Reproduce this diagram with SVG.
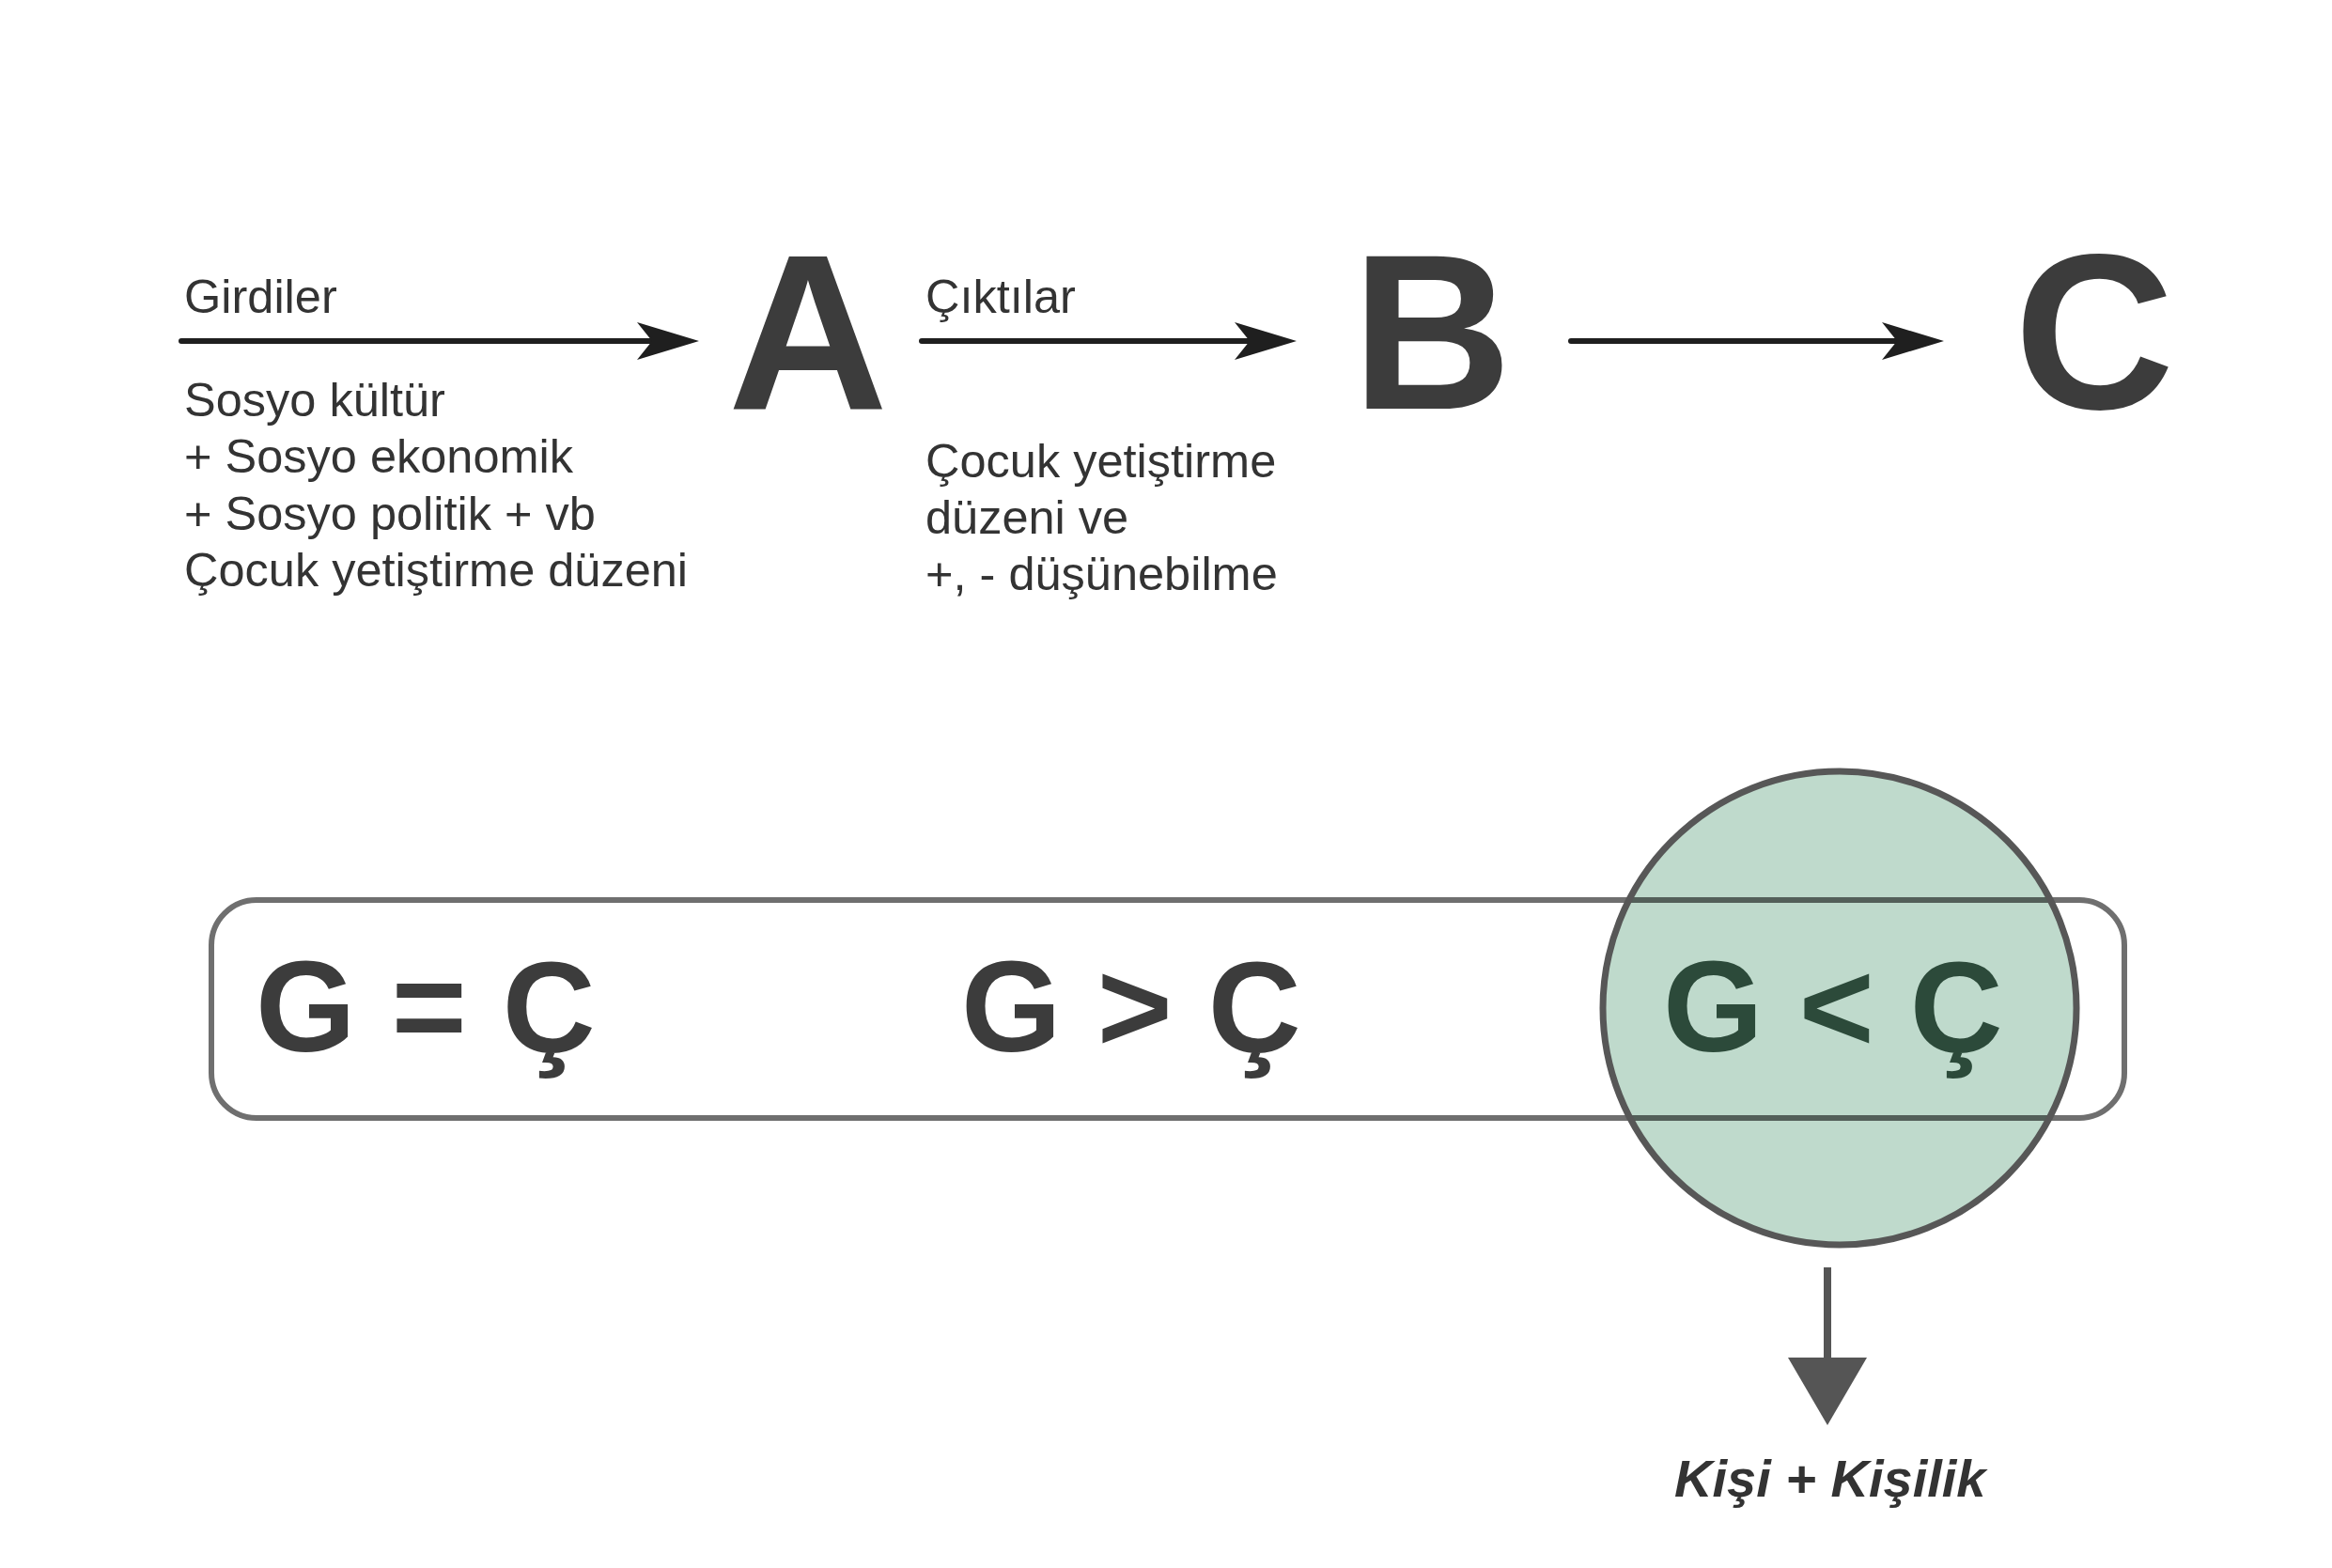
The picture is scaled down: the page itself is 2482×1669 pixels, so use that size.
<svg xmlns="http://www.w3.org/2000/svg" width="2482" height="1669" viewBox="0 0 2482 1669">
<defs>
<marker id="barb" markerUnits="userSpaceOnUse" markerWidth="80" markerHeight="48" viewBox="-70 -24 80 48" refX="-40" refY="0" orient="auto">
<path d="M0,0 L-66,-20 L-50,0 L-66,20 Z" fill="#1f1f1f"/>
</marker>
<marker id="tri" markerUnits="userSpaceOnUse" markerWidth="80" markerHeight="90" viewBox="-5 -45 80 90" refX="0" refY="0" orient="auto">
<path d="M0,-42 L72,0 L0,42 Z" fill="#555555"/>
</marker>
<style>
.t{font-family:"Liberation Sans",Arial,sans-serif;font-size:50.5px;fill:#333333}
.big{font-family:"Liberation Sans",Arial,sans-serif;font-weight:bold;font-size:236px;fill:#3c3c3c;text-anchor:middle}
.eq{font-family:"Liberation Sans",Arial,sans-serif;font-weight:bold;font-size:137px;fill:#3c3c3c}
.arr{stroke:#1f1f1f;stroke-width:6;fill:none;stroke-linecap:round}
</style>
</defs>
<rect width="2482" height="1669" fill="#ffffff"/>
<g id="connectors">
<path class="arr" d="M193,363 L704,363" marker-end="url(#barb)"/>
<path class="arr" d="M981,363 L1340,363" marker-end="url(#barb)"/>
<path class="arr" d="M1672,363 L2029,363" marker-end="url(#barb)"/>
<path d="M1945,1349 L1945,1445" stroke="#555555" stroke-width="8" fill="none" marker-end="url(#tri)"/>
</g>
<g id="inputs-label">
<text class="t" x="196" y="333">Girdiler</text>
<text class="t" x="196" y="443">Sosyo kültür</text>
<text class="t" x="196" y="503">+ Sosyo ekonomik</text>
<text class="t" x="196" y="564">+ Sosyo politik + vb</text>
<text class="t" x="196" y="624">Çocuk yetiştirme düzeni</text>
</g>
<g id="node-A"><text class="big" x="860" y="435">A</text></g>
<g id="outputs-label">
<text class="t" x="985" y="333">Çıktılar</text>
<text class="t" x="985" y="508">Çocuk yetiştirme</text>
<text class="t" x="985" y="568">düzeni ve</text>
<text class="t" x="985" y="628">+, - düşünebilme</text>
</g>
<g id="node-B"><text class="big" x="1524" y="435">B</text></g>
<g id="node-C"><text class="big" x="2229" y="435">C</text></g>
<g id="node-range">
<rect x="225" y="958" width="2036" height="232" rx="48" ry="48" fill="none" stroke="#6f6f6f" stroke-width="6"/>
<text class="eq" x="272" y="1119">G = Ç</text>
<text class="eq" x="1023" y="1119">G &gt; Ç</text>
</g>
<g id="node-circle">
<circle cx="1958" cy="1073" r="252" fill="#bfdacc" style="mix-blend-mode:multiply"/>
<circle cx="1958" cy="1073" r="252" fill="none" stroke="#575757" stroke-width="7"/>
<text class="eq" x="1770" y="1119" style="fill:#2c4a3a">G &lt; Ç</text>
</g>
<g id="node-result">
<text x="1782" y="1593" font-family="Liberation Sans, Arial, sans-serif" font-weight="bold" font-style="italic" font-size="56" fill="#333333">Kişi + Kişilik</text>
</g>
</svg>
